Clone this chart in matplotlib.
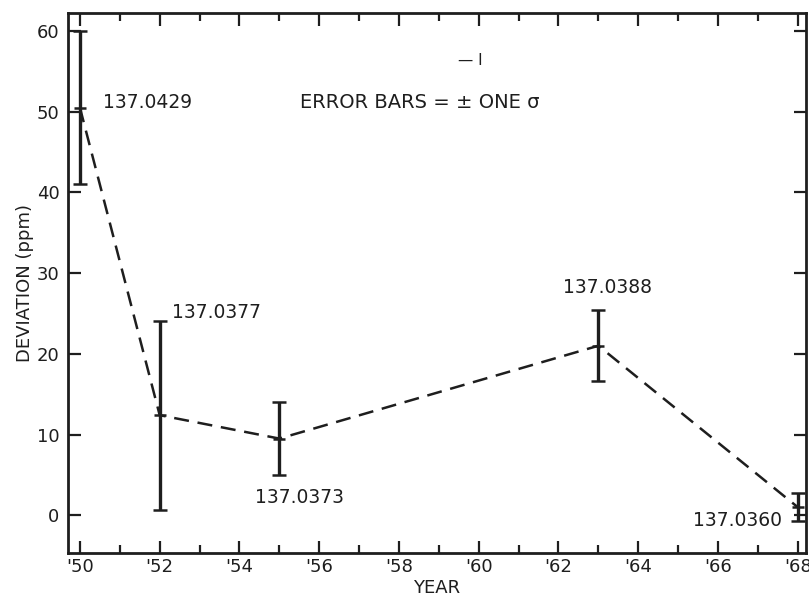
import numpy as np
import matplotlib.pyplot as plt
from matplotlib.ticker import MultipleLocator, FuncFormatter

# data
years = [1950, 1952, 1955, 1963, 1968]
deviation = [50.5, 12.4, 9.5, 21.0, 1.0]
sigma = [9.5, 11.7, 4.5, 4.4, 1.7]
alpha_inv = ["137.0429", "137.0377", "137.0373", "137.0388", "137.0360"]
# label offsets from each point, in pixels
label_offsets = [(23, 5), (12, 103), (-24, -59), (-35, 58), (-105, -13)]

ink = "#1e1e1e"
plt.rcParams['font.family'] = ['DejaVu Sans']

fig = plt.figure(figsize=(8.09, 6), dpi=100)
ax = fig.add_axes([0.084, 0.078, 0.912, 0.9])

ax.plot(years, deviation, color=ink, lw=1.8, dashes=(6, 3.5))
ax.errorbar(years, deviation, yerr=sigma, fmt='_', ms=9, mew=1.8,
            color=ink, ecolor=ink, elinewidth=2.4, capsize=5, capthick=1.8)

for x, y, s, off in zip(years, deviation, alpha_inv, label_offsets):
    ax.annotate(s, (x, y), xytext=off, textcoords='offset pixels',
                fontsize=13.5, color=ink, va='center', ha='left')

ax.text(0.314, 0.835, "ERROR BARS = \u00b1 ONE \u03c3", transform=ax.transAxes,
        fontsize=14, color=ink, va='center')
ax.text(0.545, 0.913, "\u2014 I", transform=ax.transAxes,
        fontsize=11, color=ink, va='center', ha='center')

ax.set_xlim(1949.7, 1968.2)
ax.set_ylim(-4.7, 62.2)
ax.xaxis.set_major_locator(MultipleLocator(2))
ax.xaxis.set_minor_locator(MultipleLocator(1))
ax.yaxis.set_major_locator(MultipleLocator(10))
ax.xaxis.set_major_formatter(FuncFormatter(lambda v, p: "'%02d" % (int(round(v)) % 100)))
ax.tick_params(which='both', direction='in', top=True, right=True,
               color=ink, labelcolor=ink, labelsize=13, width=1.6)
ax.tick_params(which='major', length=9)
ax.tick_params(which='minor', length=6)
ax.tick_params(axis='y', pad=6)
for sp in ax.spines.values():
    sp.set_color(ink)
    sp.set_linewidth(2)

ax.set_xlabel("YEAR", fontsize=13, color=ink, labelpad=2)
ax.set_ylabel("DEVIATION (ppm)", fontsize=13, color=ink, labelpad=2)

fig.savefig("out.png", dpi=100)
